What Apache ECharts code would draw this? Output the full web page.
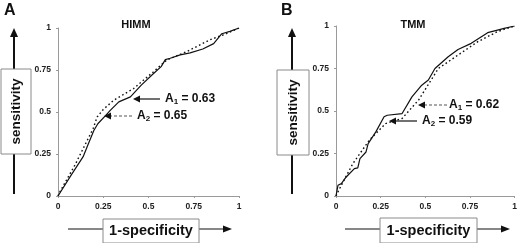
<!DOCTYPE html>
<html>
<head>
<meta charset="utf-8">
<script src="https://cdn.jsdelivr.net/npm/echarts@6/dist/echarts.min.js"></script>
<style>
  html, body { margin: 0; padding: 0; background: #fff; }
  #chart { width: 520px; height: 243px; }
</style>
</head>
<body>
<div id="chart"></div>
<script>
// ROC curves, [1-specificity, sensitivity]
const himmSolid = [
  [0, 0], [0.07, 0.12], [0.139, 0.234], [0.16, 0.29], [0.198, 0.39], [0.22, 0.43],
  [0.26, 0.475], [0.29, 0.511], [0.336, 0.56], [0.4, 0.59], [0.46, 0.66], [0.528, 0.729],
  [0.57, 0.77], [0.593, 0.812], [0.62, 0.82], [0.675, 0.84], [0.73, 0.852], [0.8, 0.875],
  [0.86, 0.907], [0.905, 0.966], [0.95, 0.98], [1, 1]
]
const himmDotted = [
  [0, 0], [0.011, 0.026], [0.094, 0.185], [0.195, 0.403], [0.216, 0.47], [0.25, 0.515],
  [0.308, 0.57], [0.418, 0.64], [0.528, 0.74], [0.58, 0.79], [0.602, 0.81], [0.712, 0.86],
  [0.84, 0.93], [0.93, 0.966], [1, 1]
]
const tmmSolid = [
  [0, 0], [0.011, 0.063], [0.03, 0.073], [0.057, 0.112], [0.103, 0.161], [0.122, 0.165],
  [0.134, 0.22], [0.168, 0.259], [0.18, 0.308], [0.223, 0.377], [0.269, 0.466], [0.287, 0.475],
  [0.37, 0.485], [0.425, 0.583], [0.48, 0.652], [0.517, 0.682], [0.554, 0.75], [0.628, 0.819],
  [0.683, 0.862], [0.757, 0.898], [0.849, 0.961], [0.904, 0.976], [0.941, 0.986], [1, 1]
]
const tmmDotted = [
  [0, 0], [0.02, 0.043], [0.094, 0.19], [0.186, 0.328], [0.278, 0.426], [0.37, 0.456],
  [0.462, 0.564], [0.573, 0.75], [0.683, 0.829], [0.794, 0.908], [0.904, 0.967], [1, 1]
]
const tickLabels = { 0: '0', 0.25: '0.25', 0.5: '0.5', 0.75: '0.75', 1: '1' }
const panelTitles = ['HIMM', 'TMM']
const panelLetters = ['A', 'B']
const areaLabels = [
  ['0.63', '0.65'],
  ['0.62', '0.59']
]

const font = 'Liberation Sans, Arial, sans-serif'
const chart = echarts.init(document.getElementById('chart'), null, { renderer: 'canvas' })

function makeAxis(gridIndex, isX) {
  return {
    type: 'value',
    gridIndex,
    min: 0,
    max: 1,
    interval: 0.25,
    axisLine: { show: true, lineStyle: { color: '#9a9a9a', width: 1 } },
    axisTick: { show: true, length: 2, lineStyle: { color: '#9a9a9a' } },
    splitLine: { show: false },
    axisLabel: {
      margin: isX ? 6 : 7,
      fontSize: 8.5,
      fontWeight: 'bold',
      fontFamily: font,
      color: '#222',
      formatter: (v) => tickLabels[v]
    }
  }
}

function curve(data, idx, dotted) {
  return {
    type: 'line',
    xAxisIndex: idx,
    yAxisIndex: idx,
    data,
    symbol: 'none',
    smooth: false,
    silent: true,
    lineStyle: dotted
      ? { color: '#111', width: 1.4, type: [1.6, 2.6] }
      : { color: '#111', width: 1.2 }
  }
}

// arrow helpers (decorations only)
function hArrow(x1, x2, y, dashed, head) {
  const h = head || 7
  const dir = x2 > x1 ? 1 : -1
  return [
    {
      type: 'line',
      shape: { x1, y1: y, x2: x2 - dir * h, y2: y },
      style: { stroke: dashed ? '#555' : '#111', lineWidth: 1.2, lineDash: dashed ? [3, 2] : null }
    },
    {
      type: 'polygon',
      shape: { points: [[x2, y], [x2 - dir * h, y - 3.5], [x2 - dir * h, y + 3.5]] },
      style: { fill: '#111' }
    }
  ]
}
function vArrow(x, yBottom, yTop) {
  return [
    { type: 'line', shape: { x1: x, y1: yBottom, x2: x, y2: yTop + 8 }, style: { stroke: '#111', lineWidth: 2 } },
    { type: 'polygon', shape: { points: [[x, yTop], [x - 4, yTop + 9], [x + 4, yTop + 9]] }, style: { fill: '#111' } }
  ]
}
function box(x, y, w, h) {
  return { type: 'rect', shape: { x, y, width: w, height: h }, style: { fill: '#fff', stroke: '#8a8a8a', lineWidth: 1 } }
}
function bigText(text, x, y, rotate, size) {
  return {
    type: 'text', x, y, rotation: rotate ? Math.PI / 2 : 0,
    style: { text, fill: '#111', font: `bold ${size}px ${font}`, align: 'center', verticalAlign: 'middle' }
  }
}
function areaText(sub, val, x, y) {
  return {
    type: 'text', x, y,
    style: {
      text: `{a|A}{s|${sub}}{a| = ${val}}`,
      verticalAlign: 'middle',
      rich: {
        a: { font: `bold 12px ${font}`, fill: '#111', verticalAlign: 'middle' },
        s: { font: `bold 8px ${font}`, fill: '#111', padding: [6, 0, 0, 0] }
      }
    }
  }
}

const graphics = [
  // panel letters and titles
  { type: 'text', x: 4, y: 3, style: { text: panelLetters[0], font: `bold 16px ${font}`, fill: '#111' } },
  { type: 'text', x: 281, y: 3, style: { text: panelLetters[1], font: `bold 16px ${font}`, fill: '#111' } },
  { type: 'text', x: 136, y: 25, style: { text: panelTitles[0], font: `bold 11px ${font}`, fill: '#111', align: 'center', verticalAlign: 'middle' } },
  { type: 'text', x: 413, y: 25, style: { text: panelTitles[1], font: `bold 11px ${font}`, fill: '#111', align: 'center', verticalAlign: 'middle' } },

  // panel A axis titles
  ...vArrow(14, 194, 28),
  box(1, 69, 30, 85),
  bigText('sensitivity', 16, 111.5, true, 13.5),
  ...hArrow(68, 232, 229, false, 9),
  box(103, 219, 96, 24),
  bigText('1-specificity', 151, 231, false, 14.5),

  // panel B axis titles
  ...vArrow(292, 194, 28),
  box(277, 70, 32, 85),
  bigText('sensitivity', 293, 112.5, true, 13.5),
  ...hArrow(345, 510, 229, false, 9),
  box(380, 218, 97, 25),
  bigText('1-specificity', 428.5, 230.5, false, 14.5),

  // area annotations, panel A
  ...hArrow(160, 133, 99, false),
  areaText('1', areaLabels[0][0], 165, 99),
  ...hArrow(132, 104, 116, true),
  areaText('2', areaLabels[0][1], 137, 116),

  // area annotations, panel B
  ...hArrow(447, 418, 105, true),
  areaText('1', areaLabels[1][0], 449, 105),
  ...hArrow(417, 389, 121, false),
  areaText('2', areaLabels[1][1], 422, 121)
]

chart.setOption({
  animation: false,
  backgroundColor: '#fff',
  grid: [
    { left: 58, top: 28, width: 181, height: 168 },
    { left: 336, top: 26, width: 181, height: 170 }
  ],
  xAxis: [makeAxis(0, true), makeAxis(1, true)],
  yAxis: [makeAxis(0, false), makeAxis(1, false)],
  series: [
    curve(himmSolid, 0, false),
    curve(himmDotted, 0, true),
    curve(tmmSolid, 1, false),
    curve(tmmDotted, 1, true)
  ],
  graphic: graphics
})
</script>
</body>
</html>
